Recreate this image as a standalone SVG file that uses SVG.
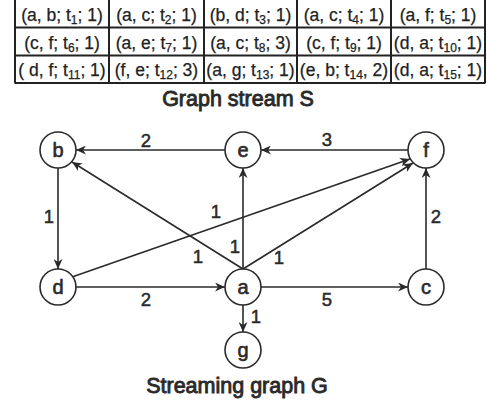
<svg xmlns="http://www.w3.org/2000/svg" width="487" height="404" viewBox="0 0 487 404">
<style>
.cell{font-family:"Liberation Sans",Arial,sans-serif;font-size:17.5px;fill:#222;stroke:#222;stroke-width:0.25;text-anchor:middle}
.sub{font-size:12px}
.grid{stroke:#222;stroke-width:2;fill:none}
.title{font-family:"Liberation Sans",Arial,sans-serif;font-size:21.5px;fill:#2a2a2a;stroke:#2a2a2a;stroke-width:0.9;text-anchor:middle}
.node circle{fill:#fff;stroke:#2a2a2a;stroke-width:1.6}
.node text{font-family:"Liberation Sans",Arial,sans-serif;font-size:20px;fill:#2a2a2a;stroke:#2a2a2a;stroke-width:0.6;text-anchor:middle}
.edge{stroke:#2a2a2a;stroke-width:1.6;fill:none;marker-end:url(#arr)}
.lbl{font-family:"Liberation Sans",Arial,sans-serif;font-size:18.5px;fill:#2a2a2a;stroke:#2a2a2a;stroke-width:0.5;text-anchor:middle}
</style>
<defs>
<marker id="arr" markerUnits="userSpaceOnUse" markerWidth="11" markerHeight="9" refX="10" refY="4.5" orient="auto">
<path d="M0,0 L10,4.5 L0,9 L3,4.5 z" fill="#2a2a2a"/>
</marker>
</defs>
<g id="table">
<path class="grid" d="M15,-1 V83.5 M109,-1 V83.5 M204,-1 V83.5 M297,-1 V83.5 M391,-1 V83.5 M485,-1 V83.5 M15,27.5 H485 M15,55.5 H485 M15,83 H485"/>
<text class="cell" x="62" y="21">(a, b; t<tspan class="sub" dy="3">1</tspan><tspan dy="-3">; 1)</tspan></text>
<text class="cell" x="156.5" y="21">(a, c; t<tspan class="sub" dy="3">2</tspan><tspan dy="-3">; 1)</tspan></text>
<text class="cell" x="250.5" y="21">(b, d; t<tspan class="sub" dy="3">3</tspan><tspan dy="-3">; 1)</tspan></text>
<text class="cell" x="344" y="21">(a, c; t<tspan class="sub" dy="3">4</tspan><tspan dy="-3">; 1)</tspan></text>
<text class="cell" x="438" y="21">(a, f; t<tspan class="sub" dy="3">5</tspan><tspan dy="-3">; 1)</tspan></text>
<text class="cell" x="62" y="48.5">(c, f; t<tspan class="sub" dy="3">6</tspan><tspan dy="-3">; 1)</tspan></text>
<text class="cell" x="156.5" y="48.5">(a, e; t<tspan class="sub" dy="3">7</tspan><tspan dy="-3">; 1)</tspan></text>
<text class="cell" x="250.5" y="48.5">(a, c; t<tspan class="sub" dy="3">8</tspan><tspan dy="-3">; 3)</tspan></text>
<text class="cell" x="344" y="48.5">(c, f; t<tspan class="sub" dy="3">9</tspan><tspan dy="-3">; 1)</tspan></text>
<text class="cell" x="438" y="48.5">(d, a; t<tspan class="sub" dy="3">10</tspan><tspan dy="-3">; 1)</tspan></text>
<text class="cell" x="62" y="76">( d, f; t<tspan class="sub" dy="3">11</tspan><tspan dy="-3">; 1)</tspan></text>
<text class="cell" x="156.5" y="76">(f, e; t<tspan class="sub" dy="3">12</tspan><tspan dy="-3">; 3)</tspan></text>
<text class="cell" x="250.5" y="76">(a, g; t<tspan class="sub" dy="3">13</tspan><tspan dy="-3">; 1)</tspan></text>
<text class="cell" x="344" y="76">(e, b; t<tspan class="sub" dy="3">14</tspan><tspan dy="-3">, 2)</tspan></text>
<text class="cell" x="438" y="76">(d, a; t<tspan class="sub" dy="3">15</tspan><tspan dy="-3">; 1)</tspan></text>
</g>
<text class="title" x="238" y="106">Graph stream S</text>
<g id="edges">
<path class="edge" d="M225,150 L76,150"/>
<path class="edge" d="M408,150 L261,150"/>
<path class="edge" d="M58,168 L58,269"/>
<path class="edge" d="M72,277 L410,159"/>
<path class="edge" d="M243,269 L72,162"/>
<path class="edge" d="M243,269 L243,168"/>
<path class="edge" d="M243,269 L413,163"/>
<path class="edge" d="M426,269 L426,168"/>
<path class="edge" d="M76,287 L225,287"/>
<path class="edge" d="M261,287 L408,287"/>
<path class="edge" d="M243,305 L243,332"/>
<text class="lbl" x="146" y="147">2</text>
<text class="lbl" x="327" y="146">3</text>
<text class="lbl" x="49" y="223">1</text>
<text class="lbl" x="216" y="218">1</text>
<text class="lbl" x="198" y="263">1</text>
<text class="lbl" x="235" y="253">1</text>
<text class="lbl" x="279" y="264">1</text>
<text class="lbl" x="436" y="223">2</text>
<text class="lbl" x="146" y="306">2</text>
<text class="lbl" x="327" y="306">5</text>
<text class="lbl" x="256" y="323">1</text>
</g>
<g id="node-b" class="node"><circle cx="58" cy="150" r="18"/><text x="58" y="157">b</text></g>
<g id="node-e" class="node"><circle cx="243" cy="150" r="18"/><text x="243" y="157">e</text></g>
<g id="node-f" class="node"><circle cx="426" cy="150" r="18"/><text x="426" y="157">f</text></g>
<g id="node-d" class="node"><circle cx="58" cy="287" r="18"/><text x="58" y="294">d</text></g>
<g id="node-a" class="node"><circle cx="243" cy="287" r="18"/><text x="243" y="294">a</text></g>
<g id="node-c" class="node"><circle cx="426" cy="287" r="18"/><text x="426" y="294">c</text></g>
<g id="node-g" class="node"><circle cx="243" cy="350" r="18"/><text x="243" y="357">g</text></g>
<text class="title" x="237" y="393">Streaming graph G</text>
</svg>
